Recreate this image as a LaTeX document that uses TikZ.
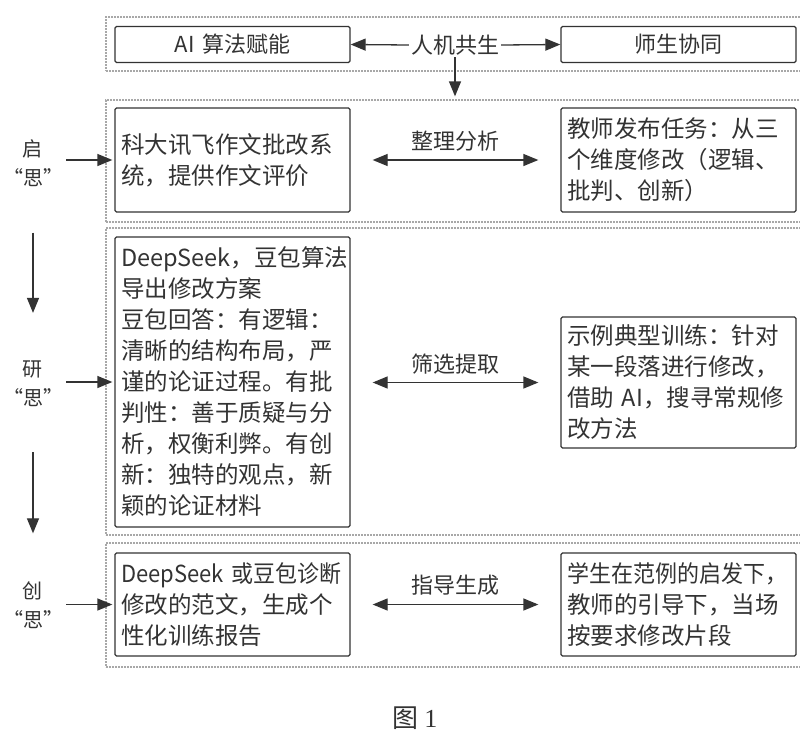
\documentclass[tikz,border=0pt]{standalone}
\usepackage{fontspec}
\usepackage{graphicx}
\setmainfont{Noto Sans CJK SC}
\newfontfamily\serifl{Liberation Serif}
\usetikzlibrary{arrows.meta}
\definecolor{ink}{HTML}{333333}
\definecolor{framec}{HTML}{A8A8A8}
\newcommand{\fitline}[1]{\resizebox{220pt}{\height}{#1}}
\begin{document}
\begin{tikzpicture}[x=1pt,y=-1pt,
  frame/.style={draw=framec, line width=1.3pt, dash pattern=on 2pt off 1pt, inner sep=0pt, minimum width=704pt},
  box/.style={draw=ink, line width=1.3pt, rounded corners=1.5pt, minimum width=235pt, text width=223pt,
    inner xsep=6pt, inner ysep=0pt, align=left, text=ink, font=\fontsize{23.5}{31}\selectfont},
  topbox/.style={box, align=center, minimum height=36pt, font=\fontsize{22}{26}\selectfont},
  lbl/.style={text=ink, inner sep=2pt, font=\fontsize{22}{26}\selectfont},
  side/.style={text=ink, inner sep=1pt, align=center, font=\fontsize{20}{29}\selectfont},
  arr/.style={draw=ink, line width=1.3pt, -{Triangle[length=15pt,width=12pt]}},
  darr/.style={draw=ink, line width=1.3pt, {Triangle[length=15pt,width=12pt]}-{Triangle[length=15pt,width=12pt]}, shorten <=22pt, shorten >=22pt}
]
\useasboundingbox (0,0) rectangle (800,742);
\clip (0,0) rectangle (800,742);
\fill[white] (0,0) rectangle (800,742);

% frames
\node[frame, minimum height=54pt] (f1) at (458,44) {};
\node[frame, minimum height=122pt] (f2) at (458,161) {};
\node[frame, minimum height=307pt] (f3) at (458,381.5) {};
\node[frame, minimum height=124pt] (f4) at (458,605) {};

% top row
\node[topbox] (ai) at (232.5,44.5) {AI 算法赋能};
\node[topbox] (ss) at (678.5,44.5) {师生协同};
\node[lbl] (rj) at (455,45) {人机共生};
\draw[arr] (rj.west) -- (ai.east);
\draw[arr] (rj.east) -- (ss.west);
\draw[arr, shorten >=3pt] (rj.south) -- (rj.south |- f2.north);

% row 1
\node[box, minimum height=104pt] (kd) at (232.5,160) {科大讯飞作文批改系\\统，提供作文评价};
\node[box, minimum height=104pt] (js) at (678.5,160) {教师发布任务：从三\\个维度修改（逻辑、\\批判、创新）};
\draw[darr] (kd.east) -- (js.west) node[lbl, midway, above=6pt] (l1) {整理分析};

% row 2
\node[box, minimum height=290pt] (ds) at (232.5,382) {DeepSeek，豆包算法\\导出修改方案\\豆包回答：有逻辑：\\清晰的结构布局，严\\谨的论证过程。有批\\判性：善于质疑与分\\析，权衡利弊。有创\\新：独特的观点，新\\颖的论证材料};
\node[box, minimum height=131pt] (sl) at (678.5,382.5) {示例典型训练：针对\\某一段落进行修改，\\借助~AI，搜寻常规修\\改方法};
\draw[darr] (ds.east |- sl.west) -- (sl.west) node[lbl, midway, above=6pt] (l2) {筛选提取};

% row 3
\node[box, minimum height=103pt] (dg) at (232.5,604.5) {\fitline{DeepSeek 或豆包诊断}\\修改的范文，生成个\\性化训练报告};
\node[box, minimum height=103pt] (xs) at (678.5,604.5) {\fitline{学生在范例的启发下，}\\教师的引导下，当场\\按要求修改片段};
\draw[darr] (dg.east) -- (xs.west) node[lbl, midway, above=6pt] (l3) {指导生成};

% side labels
\node[side] (qi) at (33,163) {启\\“思”};
\node[side] (yan) at (33,384) {研\\“思”};
\node[side] (chuang) at (33,605) {创\\“思”};
\draw[arr, shorten <=2pt, shorten >=2pt] (qi.east |- kd.west) -- (kd.west);
\draw[arr, shorten <=2pt, shorten >=2pt] (yan.east |- ds.west) -- (ds.west);
\draw[arr, shorten <=2pt, shorten >=2pt] (chuang.east |- dg.west) -- (dg.west);
\draw[arr, shorten <=45pt, shorten >=47pt] (qi.south) -- (yan.north);
\draw[arr, shorten <=44pt, shorten >=47pt] (yan.south) -- (chuang.north);

% caption
\node[text=ink, font=\fontsize{26}{30}\selectfont] (cap) at (415,718) {图 {\serifl 1}};
\end{tikzpicture}
\end{document}
